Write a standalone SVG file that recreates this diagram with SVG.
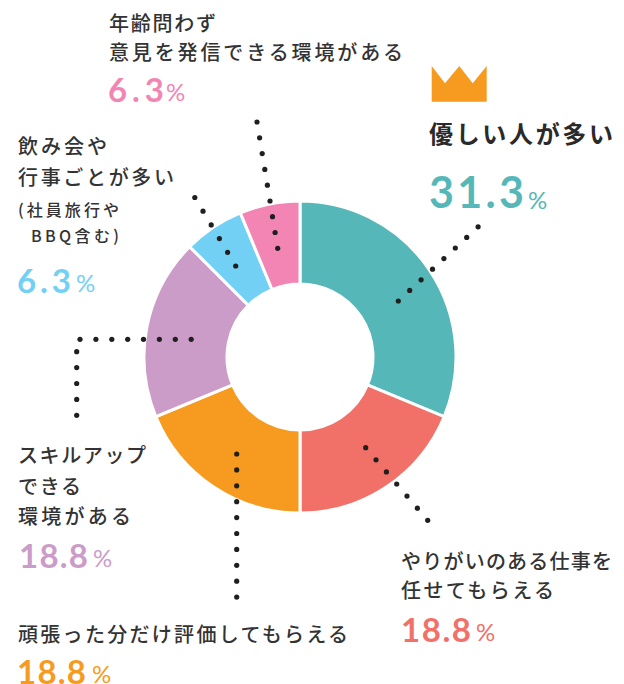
<svg xmlns="http://www.w3.org/2000/svg" width="624" height="684" viewBox="0 0 624 684">
<style>
.lb{font-family:"Noto Sans CJK JP","Noto Sans",sans-serif;font-size:20px;font-weight:500;fill:#333}
.sm{font-size:16px}
.bd{font-size:24px;font-weight:700;fill:#2a2a2a}
.num{font-family:Lato,"Noto Sans",sans-serif;font-size:33px;font-weight:700}
.big{font-size:43px}
.pct{font-family:Lato,"Noto Sans",sans-serif;font-size:24px;font-weight:400}
.seg{stroke:#fff;stroke-width:3;stroke-linejoin:miter}
.dot{fill:#1f1f1f}
.teal{fill:#56B7B8}.coral{fill:#F17067}.orange{fill:#F79B20}.purple{fill:#CC9CC8}.blue{fill:#72D0F4}.pink{fill:#F285B4}
</style>
<defs><circle id="d" r="2.6"/></defs>
<g id="chart">
<path class="seg teal" d="M300,201 A156,156 0 0 1 444.13,416.70 L367.44,384.94 A73,73 0 0 0 300,284 Z"/>
<path class="seg coral" d="M444.13,416.70 A156,156 0 0 1 300,513 L300,430 A73,73 0 0 0 367.44,384.94 Z"/>
<path class="seg orange" d="M300,513 A156,156 0 0 1 155.87,416.70 L232.56,384.94 A73,73 0 0 0 300,430 Z"/>
<path class="seg purple" d="M155.87,416.70 A156,156 0 0 1 189.69,246.69 L248.38,305.38 A73,73 0 0 0 232.56,384.94 Z"/>
<path class="seg blue" d="M189.69,246.69 A156,156 0 0 1 240.30,212.87 L272.06,289.56 A73,73 0 0 0 248.38,305.38 Z"/>
<path class="seg pink" d="M240.30,212.87 A156,156 0 0 1 300,201 L300,284 A73,73 0 0 0 272.06,289.56 Z"/>
</g>
<g id="connectors" class="dot">
<use href="#d" x="398.3" y="301"/><use href="#d" x="409.7" y="290.4"/><use href="#d" x="421.1" y="279.8"/><use href="#d" x="432.5" y="269.2"/><use href="#d" x="443.9" y="258.6"/><use href="#d" x="455.3" y="248"/><use href="#d" x="466.7" y="237.4"/><use href="#d" x="478.1" y="226.8"/>
<use href="#d" x="257" y="122"/><use href="#d" x="259.6" y="137.8"/><use href="#d" x="262.2" y="153.6"/><use href="#d" x="264.8" y="169.4"/><use href="#d" x="267.4" y="185.2"/><use href="#d" x="270" y="201"/><use href="#d" x="272.5" y="216.7"/><use href="#d" x="275.1" y="232.5"/><use href="#d" x="277.7" y="248.3"/>
<use href="#d" x="194.8" y="197.5"/><use href="#d" x="203" y="211.2"/><use href="#d" x="211.2" y="224.9"/><use href="#d" x="219.4" y="238.6"/><use href="#d" x="227.6" y="252.3"/><use href="#d" x="235.7" y="266"/>
<use href="#d" x="80" y="339.3"/><use href="#d" x="95.9" y="339.3"/><use href="#d" x="111.8" y="339.3"/><use href="#d" x="127.7" y="339.3"/><use href="#d" x="143.5" y="339.3"/><use href="#d" x="159.4" y="339.3"/><use href="#d" x="175.3" y="339.3"/><use href="#d" x="191.2" y="339.3"/>
<use href="#d" x="76.7" y="351.7"/><use href="#d" x="76.7" y="367.6"/><use href="#d" x="76.7" y="383.5"/><use href="#d" x="76.7" y="399.4"/><use href="#d" x="76.7" y="415.3"/>
<use href="#d" x="236.7" y="454"/><use href="#d" x="236.7" y="469.9"/><use href="#d" x="236.7" y="485.8"/><use href="#d" x="236.7" y="501.7"/><use href="#d" x="236.7" y="517.6"/><use href="#d" x="236.7" y="533.5"/><use href="#d" x="236.7" y="549.4"/><use href="#d" x="236.7" y="565.3"/><use href="#d" x="236.7" y="581.2"/><use href="#d" x="236.7" y="597.1"/>
<use href="#d" x="365.7" y="447.7"/><use href="#d" x="376" y="459.8"/><use href="#d" x="386.4" y="471.9"/><use href="#d" x="396.7" y="484"/><use href="#d" x="407" y="496.1"/><use href="#d" x="417.4" y="508.2"/><use href="#d" x="427.7" y="520.3"/>
</g>
<g id="node-pink">
<text class="lb" x="109" y="31" textLength="107" lengthAdjust="spacing">年齢問わず</text>
<text class="lb" x="109" y="60" textLength="294" lengthAdjust="spacing">意見を発信できる環境がある</text>
<text class="num pink" x="108" y="102" textLength="56" lengthAdjust="spacing">6.3</text>
<text class="pct pink" x="166" y="101">%</text>
</g>
<g id="node-teal">
<path class="orange" d="M431.7,66 L445,83.3 L459.3,66 L472.7,83.3 L486.7,66 L486.7,101.7 L431.7,101.7 Z"/>
<text class="lb bd" x="429" y="143" textLength="184" lengthAdjust="spacing">優しい人が多い</text>
<text class="num big teal" x="429" y="208.3" textLength="95" lengthAdjust="spacing">31.3</text>
<text class="pct teal" x="528" y="209">%</text>
</g>
<g id="node-blue">
<text class="lb" x="18" y="154" textLength="89" lengthAdjust="spacing">飲み会や</text>
<text class="lb" x="18" y="185" textLength="156" lengthAdjust="spacing">行事ごとが多い</text>
<text class="lb sm" x="18" y="216" textLength="101" lengthAdjust="spacing">(社員旅行や</text>
<text class="lb sm" x="31" y="242" textLength="88" lengthAdjust="spacing">BBQ含む)</text>
<text class="num blue" x="17" y="292.7" textLength="54" lengthAdjust="spacing">6.3</text>
<text class="pct blue" x="76" y="292">%</text>
</g>
<g id="node-purple">
<text class="lb" x="18" y="463" textLength="128" lengthAdjust="spacing">スキルアップ</text>
<text class="lb" x="18" y="494" textLength="63" lengthAdjust="spacing">できる</text>
<text class="lb" x="18" y="524" textLength="113" lengthAdjust="spacing">環境がある</text>
<text class="num purple" x="19" y="567.7" textLength="69" lengthAdjust="spacing">18.8</text>
<text class="pct purple" x="93" y="567">%</text>
</g>
<g id="node-orange">
<text class="lb" x="18" y="642" textLength="330" lengthAdjust="spacing">頑張った分だけ評価してもらえる</text>
<text class="num orange" x="17" y="683.5" textLength="69" lengthAdjust="spacing">18.8</text>
<text class="pct orange" x="92" y="683">%</text>
</g>
<g id="node-coral">
<text class="lb" x="401" y="568.5" textLength="211" lengthAdjust="spacing">やりがいのある仕事を</text>
<text class="lb" x="401" y="598" textLength="153" lengthAdjust="spacing">任せてもらえる</text>
<text class="num coral" x="401" y="641.5" textLength="70" lengthAdjust="spacing">18.8</text>
<text class="pct coral" x="476" y="641">%</text>
</g>
</svg>
